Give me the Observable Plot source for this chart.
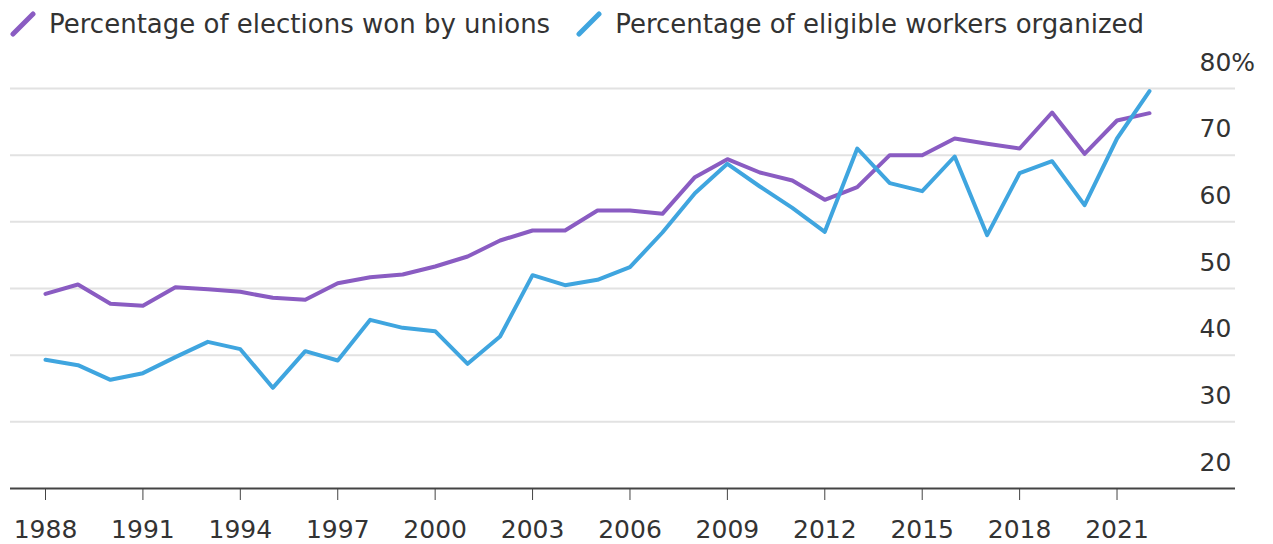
<!DOCTYPE html>
<html>
<head>
<meta charset="utf-8">
<script src="https://cdn.jsdelivr.net/npm/d3@7"></script>
<script src="https://cdn.jsdelivr.net/npm/@observablehq/plot@0.6"></script>
<style>
  body { margin: 0; background: #fff; }
  #legend { height: 44px; display: flex; align-items: center; padding: 4px 0 0 10px; box-sizing: border-box;
            font-family: "DejaVu Sans", sans-serif; font-size: 26px; color: #333; white-space: nowrap; }
  .item { display: flex; align-items: center; margin-right: 26px; }
  .item span { margin-left: 13px; }
</style>
</head>
<body>
<div id="legend"></div>
<div id="chart"></div>
<script>
const years = [1988, 1989, 1990, 1991, 1992, 1993, 1994, 1995, 1996, 1997, 1998, 1999, 2000, 2001, 2002, 2003, 2004, 2005,
  2006, 2007, 2008, 2009, 2010, 2011, 2012, 2013, 2014, 2015, 2016, 2017, 2018, 2019, 2020, 2021, 2022];
const electionsWon = [49.2, 50.6, 47.7, 47.4, 50.2, 49.9, 49.5, 48.6, 48.3, 50.8, 51.7, 52.1, 53.3, 54.8, 57.2, 58.7, 58.7, 61.7,
  61.7, 61.2, 66.7, 69.4, 67.4, 66.2, 63.3, 65.2, 70.0, 70.0, 72.5, 71.7, 71.0, 76.4, 70.2, 75.2, 76.3];
const workersOrganized = [39.3, 38.5, 36.3, 37.3, 39.7, 42.0, 40.9, 35.1, 40.6, 39.2, 45.3, 44.1, 43.6, 38.7, 42.8, 52.0, 50.5, 51.3,
  53.2, 58.4, 64.3, 68.7, 65.3, 62.1, 58.5, 71.0, 65.8, 64.6, 69.8, 58.0, 67.3, 69.1, 62.5, 72.5, 79.6];
const seriesNames = ["Percentage of elections won by unions", "Percentage of eligible workers organized"];
const seriesColors = ["#8a5cc2", "#3fa5df"];
const xTicks = [1988, 1991, 1994, 1997, 2000, 2003, 2006, 2009, 2012, 2015, 2018, 2021];
const yTicks = [20, 30, 40, 50, 60, 70, 80];

// legend
const legend = document.getElementById("legend");
seriesNames.forEach((name, i) => {
  const item = document.createElement("div");
  item.className = "item";
  item.innerHTML = `<svg width="26" height="26"><line x1="3" y1="23" x2="23" y2="3" stroke="${seriesColors[i]}" stroke-width="5" stroke-linecap="round"/></svg><span>${name}</span>`;
  legend.appendChild(item);
});

const seriesValues = [electionsWon, workersOrganized];
const data = seriesValues.flatMap((vals, s) => years.map((year, j) => ({year, value: vals[j], series: seriesNames[s]})));

const chart = Plot.plot({
  width: 1273,
  height: 500,
  marginTop: 44,
  marginBottom: 56,
  marginLeft: 45,
  marginRight: 124,
  style: {fontFamily: "DejaVu Sans, sans-serif", fontSize: "25px", color: "#333", background: "#fff"},
  x: {domain: [1988, 2022]},
  y: {domain: [20, 80]},
  color: {domain: seriesNames, range: seriesColors},
  marks: [
    Plot.ruleY(yTicks.filter(d => d > 20), {stroke: "#e2e2e2", strokeWidth: 2, insetLeft: -35, insetRight: -86}),
    Plot.ruleY([20], {stroke: "#444", strokeWidth: 2, insetLeft: -35, insetRight: -86}),
    Plot.axisX({ticks: xTicks, tickFormat: d => String(d), tickSize: 12, tickPadding: 20, label: null, fontSize: 25, stroke: "#444"}),
    Plot.axisY({anchor: "right", ticks: yTicks, tickSize: 0, tickPadding: 50, dy: -26, textAnchor: "start",
      tickFormat: d => d === 80 ? "80%" : String(d), label: null, fontSize: 25}),
    Plot.lineY(data, {x: "year", y: "value", stroke: "series", strokeWidth: 4, strokeLinejoin: "round", strokeLinecap: "round"})
  ]
});
document.getElementById("chart").appendChild(chart);
</script>
</body>
</html>
